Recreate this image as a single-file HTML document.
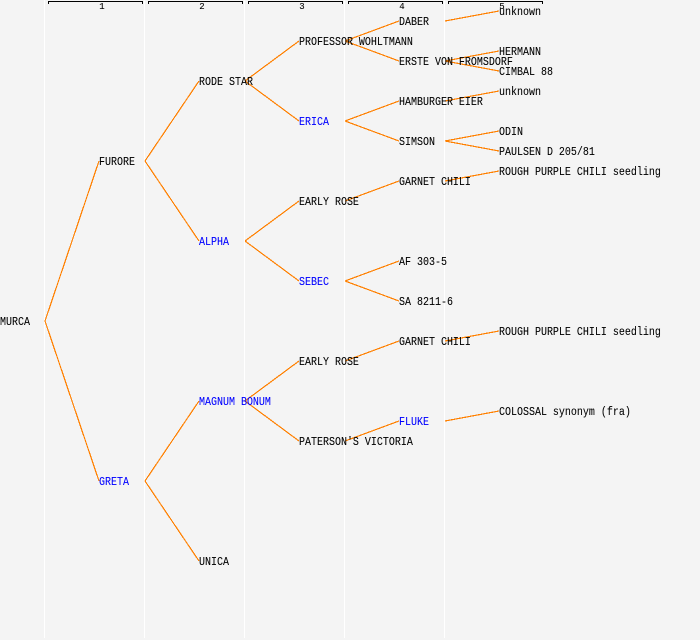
<!DOCTYPE html>
<html><head><meta charset="utf-8"><style>
html,body{margin:0;padding:0;background:#f4f4f4}
svg{display:block}
text{font-family:"Liberation Mono",monospace;font-size:12px;fill:#000;stroke:#000;stroke-width:.08px}
text.b{fill:#0000ff;stroke:#0000ff}
text.h{font-size:9px;text-anchor:middle}
line.c{stroke:#ff8000;stroke-width:1.2;shape-rendering:crispEdges}
</style></head><body>
<svg width="700" height="640" viewBox="0 0 700 640" xmlns="http://www.w3.org/2000/svg">
<rect width="700" height="640" fill="#f4f4f4"/>
<g fill="#ffffff">
<rect x="44" y="0" width="1" height="638"/><rect x="144" y="0" width="1" height="638"/><rect x="244" y="0" width="1" height="638"/><rect x="344" y="0" width="1" height="638"/><rect x="444" y="0" width="1" height="638"/>
</g>
<g fill="none" stroke="#000" stroke-width="1" shape-rendering="crispEdges">
<path d="M48.5 4V1.5H142.5V4"/><path d="M148.5 4V1.5H242.5V4"/><path d="M248.5 4V1.5H342.5V4"/><path d="M348.5 4V1.5H442.5V4"/><path d="M448.5 4V1.5H542.5V4"/>
</g>
<g>
<text class="h" x="102" y="9">1</text><text class="h" x="202" y="9">2</text><text class="h" x="302" y="9">3</text><text class="h" x="402" y="9">4</text><text class="h" x="502" y="9">5</text>
</g>
<g>
<line class="c" x1="45" y1="321" x2="99" y2="161"/><line class="c" x1="45" y1="321" x2="99" y2="481"/>
<line class="c" x1="145" y1="161" x2="199" y2="81"/><line class="c" x1="145" y1="161" x2="199" y2="241"/>
<line class="c" x1="145" y1="481" x2="199" y2="401"/><line class="c" x1="145" y1="481" x2="199" y2="561"/>
<line class="c" x1="245" y1="81" x2="299" y2="41"/><line class="c" x1="245" y1="81" x2="299" y2="121"/>
<line class="c" x1="245" y1="241" x2="299" y2="201"/><line class="c" x1="245" y1="241" x2="299" y2="281"/>
<line class="c" x1="245" y1="401" x2="299" y2="361"/><line class="c" x1="245" y1="401" x2="299" y2="441"/>
<line class="c" x1="345" y1="41" x2="399" y2="21"/><line class="c" x1="345" y1="41" x2="399" y2="61"/>
<line class="c" x1="345" y1="121" x2="399" y2="101"/><line class="c" x1="345" y1="121" x2="399" y2="141"/>
<line class="c" x1="345" y1="201" x2="399" y2="181"/>
<line class="c" x1="345" y1="281" x2="399" y2="261"/><line class="c" x1="345" y1="281" x2="399" y2="301"/>
<line class="c" x1="345" y1="361" x2="399" y2="341"/>
<line class="c" x1="345" y1="441" x2="399" y2="421"/>
<line class="c" x1="445" y1="21" x2="499" y2="11"/>
<line class="c" x1="445" y1="61" x2="499" y2="51"/><line class="c" x1="445" y1="61" x2="499" y2="71"/>
<line class="c" x1="445" y1="101" x2="499" y2="91"/>
<line class="c" x1="445" y1="141" x2="499" y2="131"/><line class="c" x1="445" y1="141" x2="499" y2="151"/>
<line class="c" x1="445" y1="181" x2="499" y2="171"/>
<line class="c" x1="445" y1="341" x2="499" y2="331"/>
<line class="c" x1="445" y1="421" x2="499" y2="411"/>
</g>
<g transform="translate(0,-1) scale(0.83333,1)">
<text x="0" y="326">MURCA</text>
<text x="118.8" y="166">FURORE</text>
<text class="b" x="118.8" y="486">GRETA</text>
<text x="238.8" y="86">RODE STAR</text>
<text class="b" x="238.8" y="246">ALPHA</text>
<text class="b" x="238.8" y="406">MAGNUM BONUM</text>
<text x="238.8" y="566">UNICA</text>
<text x="358.8" y="46">PROFESSOR WOHLTMANN</text>
<text class="b" x="358.8" y="126">ERICA</text>
<text x="358.8" y="206">EARLY ROSE</text>
<text class="b" x="358.8" y="286">SEBEC</text>
<text x="358.8" y="366">EARLY ROSE</text>
<text x="358.8" y="446">PATERSON'S VICTORIA</text>
<text x="478.8" y="26">DABER</text>
<text x="478.8" y="66">ERSTE VON FROMSDORF</text>
<text x="478.8" y="106">HAMBURGER EIER</text>
<text x="478.8" y="146">SIMSON</text>
<text x="478.8" y="186">GARNET CHILI</text>
<text x="478.8" y="266">AF 303-5</text>
<text x="478.8" y="306">SA 8211-6</text>
<text x="478.8" y="346">GARNET CHILI</text>
<text class="b" x="478.8" y="426">FLUKE</text>
<text x="598.8" y="16">unknown</text>
<text x="598.8" y="56">HERMANN</text>
<text x="598.8" y="76">CIMBAL 88</text>
<text x="598.8" y="96">unknown</text>
<text x="598.8" y="136">ODIN</text>
<text x="598.8" y="156">PAULSEN D 205/81</text>
<text x="598.8" y="176">ROUGH PURPLE CHILI seedling</text>
<text x="598.8" y="336">ROUGH PURPLE CHILI seedling</text>
<text x="598.8" y="416">COLOSSAL synonym (fra)</text>
</g>
</svg>
</body></html>
